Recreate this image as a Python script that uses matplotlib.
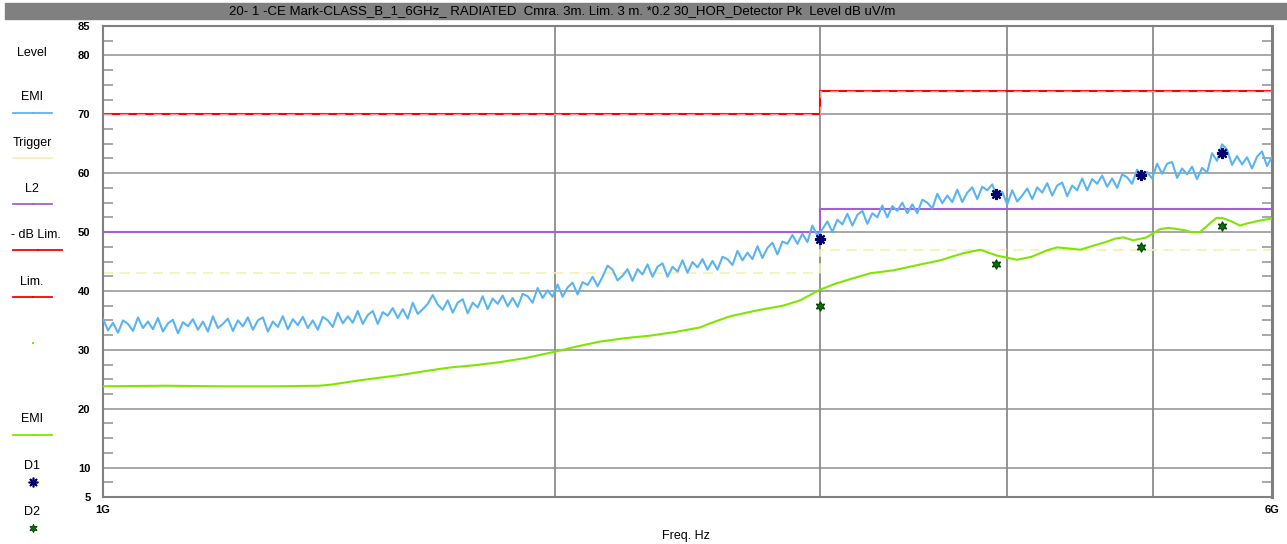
import numpy as np
import matplotlib.pyplot as plt
from matplotlib.lines import Line2D
from matplotlib.patches import Rectangle
from matplotlib.ticker import NullLocator

plt.rcParams['font.family'] = ['Liberation Sans', 'DejaVu Sans']

# EMI peak trace (dB uV/m), sweep 1 GHz .. 6 GHz, log spaced points
f_start, f_stop = 1e9, 6e9
emi_pk = [
    35.3, 33.3, 34.6, 32.9, 35.0, 34.4, 33.2, 35.5, 33.7, 34.8,
    33.5, 35.4, 33.1, 34.5, 35.1, 32.8, 34.7, 34.0, 35.2, 33.4,
    34.8, 33.1, 35.7, 33.7, 34.4, 35.3, 33.2, 35.0, 34.0, 35.5,
    33.4, 35.0, 35.5, 33.1, 34.8, 33.9, 35.7, 33.5, 35.2, 34.2,
    35.6, 33.7, 35.0, 33.4, 35.6, 35.0, 33.9, 36.3, 34.5, 35.7,
    34.6, 36.6, 34.4, 35.9, 36.6, 34.4, 36.4, 35.8, 37.1, 35.4,
    36.9, 35.3, 38.0, 36.1, 36.9, 37.8, 39.3, 37.7, 36.8, 38.4,
    36.3, 38.0, 38.6, 36.2, 38.0, 37.2, 39.1, 36.9, 38.7, 37.8,
    39.2, 37.4, 38.8, 37.3, 39.5, 39.1, 38.0, 40.5, 38.8, 40.1,
    39.0, 41.1, 39.0, 40.6, 41.4, 39.4, 41.5, 41.0, 42.4, 40.8,
    42.4, 44.3, 43.6, 41.8, 42.6, 43.7, 41.7, 43.7, 42.8, 44.5,
    42.4, 44.1, 44.7, 42.4, 44.1, 43.3, 45.2, 43.1, 44.9, 44.0,
    45.4, 43.6, 45.1, 43.6, 45.8, 45.4, 44.4, 46.8, 45.2, 46.5,
    45.4, 47.6, 45.6, 47.3, 48.2, 46.2, 48.4, 48.0, 49.5, 48.0,
    49.7, 48.3, 51.1, 49.4, 50.5, 51.8, 50.0, 52.1, 51.3, 53.1,
    51.1, 52.9, 53.6, 51.4, 53.2, 52.5, 54.5, 52.5, 54.4, 53.6,
    55.0, 53.2, 54.7, 53.2, 55.5, 55.0, 54.0, 56.5, 54.9, 56.2,
    55.1, 57.2, 55.1, 56.7, 57.6, 55.6, 57.7, 57.1, 58.1, 56.0,
    56.8, 54.7, 57.1, 55.2, 56.2, 57.4, 55.6, 57.6, 56.7, 58.3,
    56.2, 57.9, 58.4, 56.1, 57.9, 57.1, 59.1, 57.1, 59.0, 58.2,
    59.6, 57.7, 59.1, 57.5, 59.8, 59.3, 58.2, 60.6, 59.0, 60.2,
    59.1, 61.6, 59.9, 61.6, 61.9, 59.2, 60.8, 59.8, 61.1, 59.0,
    60.9, 60.1, 63.4, 62.1, 64.9, 64.0, 61.4, 62.9, 61.5, 62.7,
    60.8, 62.8, 63.7, 61.2, 62.8,
]

# EMI average trace
emi_avg_ghz = [1.000, 1.100, 1.200, 1.300, 1.394, 1.420, 1.480, 1.576, 1.640, 1.702,
               1.770, 1.837, 1.910, 1.993, 2.070, 2.142, 2.230, 2.312, 2.400, 2.497,
               2.536, 2.615, 2.725, 2.836, 2.911, 3.000, 3.070, 3.143, 3.241, 3.357,
               3.515, 3.608, 3.737, 3.836, 3.937, 4.060, 4.150, 4.250, 4.316, 4.400,
               4.472, 4.550, 4.650, 4.720, 4.777, 4.850, 4.950, 5.054, 5.120, 5.160,
               5.250, 5.300, 5.373, 5.440, 5.510, 5.560, 5.640, 5.713, 5.780, 5.830,
               5.900, 6.000]
emi_avg = [23.8, 23.9, 23.8, 23.8, 23.9, 24.1, 24.8, 25.7, 26.4, 27.0,
           27.4, 27.9, 28.6, 29.6, 30.6, 31.4, 32.0, 32.4, 33.0, 33.8,
           34.5, 35.7, 36.7, 37.5, 38.4, 40.2, 41.2, 42.0, 43.0, 43.5,
           44.6, 45.2, 46.4, 47.0, 46.0, 45.3, 45.8, 46.9, 47.4, 47.2,
           47.0, 47.6, 48.3, 48.9, 49.1, 48.6, 49.1, 50.5, 50.7, 50.6,
           50.3, 50.0, 50.0, 51.2, 52.4, 52.4, 51.8, 51.1, 51.5, 51.7,
           52.0, 52.3]

# limit lines (step at 3 GHz)
lim_freq = [1e9, 3e9, 6e9]
lim_level = [70, 74, 74]
l2_level = [50, 54, 54]
trigger_level = [43, 47, 47]

# detector results
d_freq_ghz = [3.00, 3.93, 4.91, 5.56]
d1_level = [48.8, 56.5, 59.7, 63.4]
d2_level = [37.5, 44.6, 47.4, 51.1]

title = ('20- 1 -CE Mark-CLASS_B_1_6GHz_ RADIATED  Cmra. 3m. Lim. 3 m. '
         '*0.2 30_HOR_Detector Pk  Level dB uV/m')

c_pk = '#5AB4F0'
c_avg = '#7FE600'
c_lim = '#FF0000'
c_l2 = '#A45FD8'
c_trig = '#F4F2B0'
c_d1 = '#00006E'
c_d2 = '#0A6E0A'
c_grid = '#A0A0A0'

W, H = 1287, 544
fig = plt.figure(figsize=(W / 100, H / 100), dpi=100)

ov = fig.add_axes([0, 0, 1, 1])
ov.set_xlim(0, W)
ov.set_ylim(H, 0)
ov.axis('off')

ax = fig.add_axes([103 / W, 47 / H, 1169 / W, 471 / H])
ax.set_xscale('log')
ax.set_xlim(f_start, f_stop)
ax.set_ylim(5, 85)

# grid
for v in range(10, 81, 10):
    ax.axhline(v, color=c_grid, lw=1.3, zorder=0)
for f in [2e9, 3e9, 4e9, 5e9]:
    ax.axvline(f, color='#8C8C8C', lw=1.3, zorder=0)

# limits
ax.plot(lim_freq, trigger_level, drawstyle='steps-post', color=c_trig, lw=1.2,
        dashes=(6, 4), zorder=2)
ax.plot(lim_freq, l2_level, drawstyle='steps-post', color=c_l2, lw=1.5, zorder=2)
ax.plot(lim_freq, lim_level, drawstyle='steps-post', color=c_lim, lw=1.5, zorder=2)
ax.plot(lim_freq, lim_level, drawstyle='steps-post', color='#FF9090', lw=1.0,
        dashes=(6, 6), zorder=2)

# traces
pk_freq = np.geomspace(f_start, f_stop, len(emi_pk))
ax.plot(pk_freq, emi_pk, color=c_pk, lw=1.5, zorder=3)
ax.plot(np.array(emi_avg_ghz) * 1e9, emi_avg, color=c_avg, lw=1.5, zorder=3)

d_freq = np.array(d_freq_ghz) * 1e9
ax.plot(d_freq, d1_level, ls='none', marker=(8, 2, 0), ms=8, mew=1.6,
        color=c_d1, zorder=4)
ax.plot(d_freq, d2_level, ls='none', marker=(6, 1, 0), ms=7, mew=0.8,
        mfc=c_d2, mec='#004400', zorder=4)

# axes styling
for s in ax.spines.values():
    s.set_color('#808080')
    s.set_linewidth(1.5)
ax.spines['right'].set_linewidth(2.2)

ax.set_yticks([5, 10, 20, 30, 40, 50, 60, 70, 80, 85])
ax.set_yticklabels(['5', '10', '20', '30', '40', '50', '60', '70', '80', '85'],
                   fontsize=8, fontweight='bold')
ax.set_yticks([v for v in np.arange(7.5, 85, 2.5) if v % 10], minor=True)
ax.tick_params(axis='y', which='major', length=0, pad=9)
ax.tick_params(axis='y', which='minor', direction='in', length=7, width=1.3,
               color=c_grid, left=True, right=True)

ax.set_xticks([1e9, 6e9])
ax.set_xticklabels(['1G', '6G'], fontsize=8, fontweight='bold')
ax.xaxis.set_minor_locator(NullLocator())
ax.tick_params(axis='x', which='major', length=0, pad=6)

# title bar
ov.add_patch(Rectangle((5, 3), W - 5, 16, color='#808080', zorder=0))
ov.text(562, 11.5, title, ha='center', va='center', fontsize=9.5, color='black')
ov.text(686, 536, 'Freq. Hz', ha='center', va='center', fontsize=9)

# legend column on the left
ov.text(32, 53, 'Level', ha='center', va='center', fontsize=9)
legend_items = [
    ('EMI', 97, 113, c_pk, 52),
    ('Trigger', 143, 158, c_trig, 52),
    ('L2', 189, 204, c_l2, 52),
    ('- dB Lim.', 235, 250, c_lim, 62),
    ('Lim.', 282, 297, c_lim, 52),
    ('EMI', 419, 435, c_avg, 52),
]
for name, ty, ly, col, x1 in legend_items:
    ov.text(32 if x1 == 52 else 36, ty, name, ha='center', va='center', fontsize=9)
    ov.add_line(Line2D([13, x1], [ly, ly], color=col, lw=1.3))
    ov.plot([(13 + x1) / 2], [ly], marker='s', ms=1.5, color=col, mew=0)
ov.plot([33], [343], marker='s', ms=1.5, color=c_avg, mew=0)
ov.text(32, 466, 'D1', ha='center', va='center', fontsize=9)
ov.plot([33], [482], marker=(8, 2, 0), ms=7, mew=1.2, color=c_d1)
ov.text(32, 512, 'D2', ha='center', va='center', fontsize=9)
ov.plot([33], [528], marker=(6, 1, 0), ms=6, mew=0.6, mfc=c_d2, mec='#004400')

fig.savefig('out.png', dpi=100)
